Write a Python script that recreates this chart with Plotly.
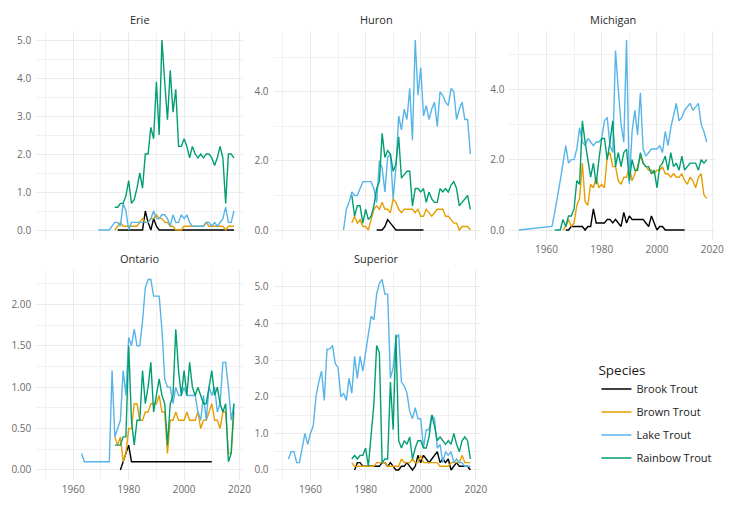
import plotly.graph_objects as go
from plotly.subplots import make_subplots

# ---------------- data ----------------
lakes = ["Erie", "Huron", "Michigan", "Ontario", "Superior"]
species = ["Brook Trout", "Brown Trout", "Lake Trout", "Rainbow Trout"]
species_colors = ["#000000", "#E69F00", "#56B4E9", "#009E73"]

x_tick_vals = [1960, 1980, 2000, 2020]

# Erie
erie_brook_years = list(range(1976, 2019))
erie_brook = [0.0,0.0,0.0,0.0,0.0,0.0,0.0,0.0,0.0,0.0,
              0.5,0.2,0.0,0.3,0.1,0.0,0.0,0.0,0.0,0.0,
              0.0,0.0,0.0,0.0,0.0,0.0,0.0,0.0,0.0,0.0,
              0.0,0.0,0.0,0.0,0.0,0.0,0.0,0.0,0.0,0.0,
              0.0,0.0,0.0]
erie_brown_years = list(range(1975, 2019))
erie_brown = [0.0,0.1,0.2,0.1,0.1,0.1,0.1,0.1,0.1,0.2,
              0.3,0.2,0.2,0.3,0.3,0.4,0.3,0.3,0.2,0.2,
              0.1,0.1,0.0,0.0,0.0,0.1,0.1,0.1,0.1,0.1,
              0.1,0.1,0.1,0.2,0.1,0.1,0.1,0.1,0.1,0.1,
              0.0,0.1,0.1,0.1]
erie_lake_years = list(range(1969, 2019))
erie_lake = [0.0,0.0,0.0,0.0,0.0,0.1,0.2,0.2,0.1,0.7,
             0.5,0.0,0.2,0.2,0.2,0.2,0.2,0.2,0.2,0.3,
             0.5,0.3,0.3,0.4,0.4,0.3,0.1,0.4,0.2,0.2,
             0.4,0.3,0.4,0.2,0.1,0.1,0.1,0.1,0.1,0.2,
             0.2,0.1,0.2,0.1,0.2,0.3,0.6,0.2,0.2,0.5]
erie_rainbow_years = list(range(1975, 2019))
erie_rainbow = [0.6,0.6,0.7,0.7,0.9,1.3,0.7,0.8,1.1,1.5,
                1.1,2.0,2.0,2.7,2.4,3.9,2.5,5.0,3.9,2.9,
                4.2,3.1,3.7,2.2,2.2,2.4,2.2,1.9,2.2,2.0,
                1.9,2.0,1.9,2.0,2.0,1.9,1.7,1.9,2.2,1.9,
                0.7,2.0,2.0,1.9]

# Huron
huron_brook_years = list(range(1984, 2002))
huron_brook = [0.0,0.0,0.0,0.1,0.3,0.2,0.1,0.0,0.0,0.0,
               0.0,0.0,0.0,0.0,0.0,0.0,0.0,0.0]
huron_brown_years = list(range(1975, 2019))
huron_brown = [0.2,0.4,0.2,0.3,0.1,0.1,0.0,0.3,0.6,0.7,
               0.6,0.8,0.6,0.6,0.5,0.9,0.8,0.6,0.5,0.6,
               0.6,0.6,0.6,0.5,0.6,0.4,0.4,0.6,0.5,0.4,
               0.5,0.6,0.6,0.6,0.4,0.4,0.3,0.2,0.2,0.0,
               0.1,0.1,0.1,0.0]
huron_lake_years = list(range(1972, 2019))
huron_lake = [0.0,0.6,0.8,1.1,1.0,1.0,1.2,1.4,1.4,1.4,
              1.4,1.2,0.8,2.0,1.8,1.1,2.1,2.2,0.9,1.8,
              3.3,2.9,3.5,3.2,4.1,2.6,5.5,3.9,4.7,3.3,
              3.6,3.2,3.5,3.7,3.0,4.0,3.9,3.7,3.6,4.1,
              4.0,3.2,3.5,3.7,3.2,3.2,2.2]
huron_rainbow_years = list(range(1975, 2019))
huron_rainbow = [1.0,0.4,0.7,0.7,0.2,0.6,0.3,0.4,0.7,1.2,
                 1.4,2.8,2.1,2.3,2.2,1.7,1.9,2.7,1.5,1.6,
                 1.7,1.7,0.7,1.2,1.2,1.1,1.2,0.8,1.1,0.9,
                 0.8,0.8,1.2,1.1,1.2,1.1,1.3,1.4,1.2,0.7,
                 0.8,0.9,1.0,0.6]

# Michigan
michigan_brook_years = list(range(1967, 2011))
michigan_brook = [0.0,0.0,0.1,0.1,0.1,0.1,0.1,0.0,0.1,0.1,
                  0.6,0.2,0.2,0.2,0.2,0.3,0.3,0.2,0.3,0.2,
                  0.1,0.5,0.2,0.4,0.3,0.3,0.3,0.3,0.3,0.2,
                  0.1,0.4,0.2,0.0,0.1,0.1,0.0,0.0,0.0,0.0,
                  0.0,0.0,0.0,0.0]
michigan_brown_years = list(range(1966, 2019))
michigan_brown = [0.0,0.1,0.3,0.1,0.2,0.7,0.9,1.9,0.8,0.7,
                  1.3,1.2,1.5,1.2,1.3,1.2,2.1,2.2,1.8,1.8,
                  1.4,1.3,1.5,1.5,1.8,1.4,1.6,1.8,2.1,1.9,
                  1.8,1.7,1.7,1.6,1.7,1.7,1.8,1.6,1.6,1.5,
                  1.6,1.5,1.5,1.6,1.4,1.3,1.5,1.4,1.2,1.5,
                  1.6,1.0,0.9]
michigan_lake_years = [1950, 1962] + list(range(1963, 2019))
michigan_lake = [0.0, 0.1,
                 0.5,0.9,1.4,1.9,2.4,1.9,2.0,2.0,2.3,2.9,
                 2.5,2.4,2.6,2.5,2.4,2.5,2.5,2.6,3.1,3.2,
                 2.4,2.2,5.1,4.0,3.0,2.5,5.4,1.3,2.8,3.4,
                 2.7,3.9,2.3,2.1,2.2,2.3,2.3,2.3,2.4,2.2,
                 2.8,2.4,2.9,3.3,3.6,3.1,3.2,3.4,3.5,3.6,
                 3.4,3.5,3.6,3.0,2.8,2.5]
michigan_rainbow_years = list(range(1963, 2019))
michigan_rainbow = [0.0,0.0,0.0,0.3,0.1,0.4,0.4,0.6,1.4,1.3,
                    3.1,2.5,2.0,1.5,1.9,1.3,2.0,2.6,2.6,2.0,
                    2.5,3.1,1.8,2.2,1.8,2.2,2.3,1.4,2.0,1.7,
                    1.7,2.2,1.9,1.8,1.8,1.6,1.7,1.2,1.8,1.9,
                    2.1,1.7,2.2,1.8,1.9,1.7,2.1,1.7,1.8,1.9,
                    1.9,1.9,1.7,2.0,1.9,2.0]

# Ontario
ontario_brook_years = list(range(1977, 2011))
ontario_brook = [0.0,0.1,0.2,0.3,0.1,0.1,0.1,0.1,0.1,0.1,
                 0.1,0.1,0.1,0.1,0.1,0.1,0.1,0.1,0.1,0.1,
                 0.1,0.1,0.1,0.1,0.1,0.1,0.1,0.1,0.1,0.1,
                 0.1,0.1,0.1,0.1]
ontario_brown_years = list(range(1975, 2019))
ontario_brown = [0.4,0.3,0.4,0.1,0.2,0.5,0.5,0.8,0.8,0.6,
                 0.6,0.7,0.7,0.8,0.8,0.8,0.9,0.7,0.7,0.2,
                 0.6,0.6,0.7,0.6,0.6,0.6,0.7,0.6,0.6,0.6,
                 0.7,0.5,0.6,0.6,0.7,0.8,0.6,0.6,0.5,0.7,
                 0.7,0.2,0.2,0.7]
ontario_lake_years = list(range(1963, 2019))
ontario_lake = [0.2,0.1,0.1,0.1,0.1,0.1,0.1,0.1,0.1,0.1,
                0.1,1.2,0.4,0.5,0.6,1.2,0.9,1.6,1.5,1.7,
                1.5,1.5,1.8,2.2,2.3,2.3,2.1,2.1,2.1,1.7,
                1.1,1.0,1.0,0.8,1.0,0.9,0.9,1.0,0.9,0.9,
                0.9,0.9,0.7,0.6,0.9,0.6,1.0,0.9,1.0,0.7,
                0.8,1.3,1.3,1.0,0.6,0.8]
ontario_rainbow_years = list(range(1975, 2019))
ontario_rainbow = [0.3,0.3,0.3,0.4,0.4,1.5,0.6,0.3,0.6,0.6,
                   1.2,0.8,1.0,1.3,0.7,0.9,1.1,0.9,0.8,0.3,
                   0.8,0.9,1.7,1.2,0.9,1.2,0.9,1.3,1.0,0.9,
                   1.0,0.9,0.8,0.8,1.0,1.2,0.9,1.0,0.8,0.7,
                   0.8,0.1,0.2,0.8]

# Superior
superior_brook_years = list(range(1976, 2019))
superior_brook = [0.0,0.2,0.2,0.1,0.1,0.1,0.1,0.1,0.1,0.1,
                  0.2,0.2,0.1,0.2,0.1,0.0,0.0,0.1,0.1,0.2,
                  0.1,0.0,0.1,0.4,0.2,0.4,0.3,0.2,0.3,0.4,
                  0.5,0.2,0.3,0.2,0.3,0.0,0.1,0.2,0.1,0.1,
                  0.1,0.1,0.0]
superior_brown_years = list(range(1975, 2019))
superior_brown = [0.2,0.1,0.1,0.1,0.1,0.1,0.1,0.1,0.1,0.2,
                  0.2,0.2,0.2,0.1,0.1,0.1,0.1,0.1,0.3,0.2,
                  0.2,0.2,0.3,0.2,0.2,0.4,0.2,0.2,0.2,0.2,
                  0.2,0.2,0.1,0.1,0.1,0.1,0.2,0.2,0.2,0.2,
                  0.4,0.2,0.2,0.2]
superior_lake_years = list(range(1952, 2019))
superior_lake = [0.3,0.5,0.5,0.2,0.2,0.6,1.0,0.7,1.0,1.2,
                 2.0,2.4,2.7,1.9,3.3,3.3,3.4,2.9,2.8,2.0,
                 2.1,1.9,2.5,2.1,3.1,2.5,3.1,2.7,3.2,3.6,
                 4.2,4.1,4.8,5.1,5.2,4.8,4.8,2.5,2.8,3.6,
                 3.7,2.4,2.3,2.1,1.6,1.4,1.7,1.4,1.4,0.6,
                 1.1,1.1,1.5,1.4,0.6,0.7,0.2,0.5,0.4,0.5,
                 0.2,0.3,0.2,0.2,0.1,0.1,0.1]
superior_rainbow_years = list(range(1975, 2019))
superior_rainbow = [0.3,0.4,0.3,0.4,0.4,0.6,0.1,1.0,1.8,3.4,
                    3.2,0.2,0.3,0.3,2.4,1.1,3.7,0.8,0.6,0.8,
                    0.7,0.9,0.3,0.6,0.8,0.8,0.6,0.6,0.9,1.5,
                    1.2,0.8,0.9,0.8,0.7,0.8,0.7,1.0,0.7,0.5,
                    0.8,0.9,0.8,0.3]

series = {
    "Erie": [(erie_brook_years, erie_brook), (erie_brown_years, erie_brown),
             (erie_lake_years, erie_lake), (erie_rainbow_years, erie_rainbow)],
    "Huron": [(huron_brook_years, huron_brook), (huron_brown_years, huron_brown),
              (huron_lake_years, huron_lake), (huron_rainbow_years, huron_rainbow)],
    "Michigan": [(michigan_brook_years, michigan_brook), (michigan_brown_years, michigan_brown),
                 (michigan_lake_years, michigan_lake), (michigan_rainbow_years, michigan_rainbow)],
    "Ontario": [(ontario_brook_years, ontario_brook), (ontario_brown_years, ontario_brown),
                (ontario_lake_years, ontario_lake), (ontario_rainbow_years, ontario_rainbow)],
    "Superior": [(superior_brook_years, superior_brook), (superior_brown_years, superior_brown),
                 (superior_lake_years, superior_lake), (superior_rainbow_years, superior_rainbow)],
}

# ---------------- layout / styling ----------------
# the page body has an 8px default margin; lay the figure out in window pixels
OFF = 8
W, H = 732 - OFF, 505 - OFF
FONT = "Open Sans"
panel_pos = {"Erie": (1, 1), "Huron": (1, 2), "Michigan": (1, 3),
             "Ontario": (2, 1), "Superior": (2, 2)}
col_px = {1: (36.5, 246), 2: (276.5, 485), 3: (515, 724)}
row_px = {1: (30.5, 239.5), 2: (270, 479.5)}
y_dtick = {"Erie": 1, "Huron": 2, "Michigan": 2, "Ontario": 0.5, "Superior": 1}
y_fmt = {"Erie": ".1f", "Huron": ".1f", "Michigan": ".1f", "Ontario": ".2f", "Superior": ".1f"}
show_x_labels = {"Erie": False, "Huron": False, "Michigan": True, "Ontario": True, "Superior": True}


def px_x(v):
    return (v - OFF) / W


def px_y(v):
    return 1 - (v - OFF) / H


fig = make_subplots(rows=2, cols=3)

all_years = [y for lk in lakes for ys, _ in series[lk] for y in ys]
xmin, xmax = min(all_years), max(all_years)
xpad = (xmax - xmin) * 0.05

tick_font = dict(family=FONT, size=10, color="#6a6a6a")

for lake in lakes:
    r, c = panel_pos[lake]
    for k, (ys, vs) in enumerate(series[lake]):
        fig.add_trace(go.Scatter(
            x=ys, y=vs, mode="lines", name=species[k],
            legendgroup=species[k], showlegend=(lake == "Erie"),
            line=dict(color=species_colors[k], width=1.4),
        ), row=r, col=c)

    vals = [v for _, vs in series[lake] for v in vs]
    lo, hi = min(vals), max(vals)
    pad = (hi - lo) * 0.05
    idx = (r - 1) * 3 + c
    xa = "xaxis" if idx == 1 else f"xaxis{idx}"
    ya = "yaxis" if idx == 1 else f"yaxis{idx}"
    x0, x1 = col_px[c]
    y0, y1 = row_px[r]
    fig.layout[xa].update(
        domain=[px_x(x0), px_x(x1)], range=[xmin - xpad, xmax + xpad],
        tickvals=x_tick_vals, showticklabels=show_x_labels[lake],
        showgrid=True, gridcolor="#ebebeb", gridwidth=1,
        minor=dict(dtick=10, tick0=1950, showgrid=True, gridcolor="#f1f1f1", gridwidth=0.6),
        zeroline=False, showline=False, ticks="",
        tickfont=tick_font, ticklabelstandoff=2,
    )
    fig.layout[ya].update(
        domain=[px_y(y1), px_y(y0)], range=[lo - pad, hi + pad],
        dtick=y_dtick[lake], tick0=0, tickformat=y_fmt[lake],
        showgrid=True, gridcolor="#ebebeb", gridwidth=1,
        minor=dict(dtick=y_dtick[lake] / 2, tick0=0, showgrid=True, gridcolor="#f1f1f1", gridwidth=0.6),
        zeroline=False, showline=False, ticks="",
        tickfont=tick_font, ticklabelstandoff=4,
    )
    fig.add_annotation(
        text=lake, xref="paper", yref="paper",
        x=px_x((x0 + x1) / 2), y=px_y(y0 - 11.5),
        xanchor="center", yanchor="middle", showarrow=False,
        font=dict(family=FONT, size=11, color="#2a2a2a"),
    )

# hide unused sixth panel
fig.layout["xaxis6"].update(visible=False, domain=[0.99, 1.0])
fig.layout["yaxis6"].update(visible=False, domain=[0.0, 0.01])

fig.update_layout(
    width=W, height=H,
    margin=dict(l=0, r=0, t=0, b=0),
    paper_bgcolor="white", plot_bgcolor="white",
    font=dict(family=FONT, color="#1a1a1a"),
    legend=dict(
        title=dict(text="Species", font=dict(family=FONT, size=13.5, color="#1a1a1a")),
        font=dict(family=FONT, size=11, color="#1a1a1a"),
        x=px_x(603), y=px_y(357), xanchor="left", yanchor="top",
        traceorder="grouped", tracegroupgap=4,
        bgcolor="rgba(0,0,0,0)", itemwidth=30,
    ),
    showlegend=True,
)

fig.write_html("out.html")
